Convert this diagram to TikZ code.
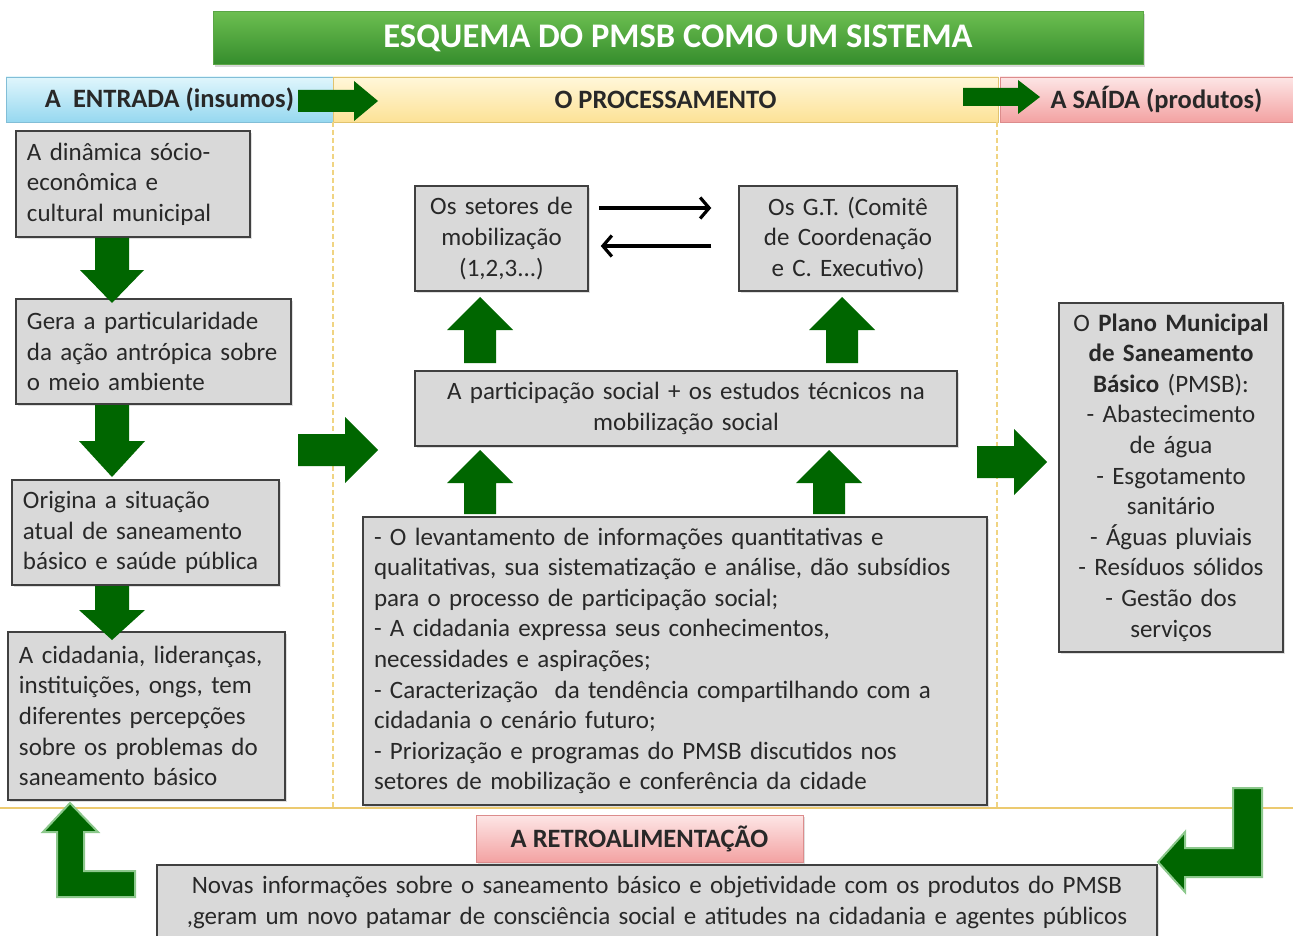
\documentclass[tikz,border=0pt]{standalone}
\usepackage{fontspec}
\setmainfont{Carlito}
\usetikzlibrary{arrows.meta,shadows}

\definecolor{boxfill}{RGB}{217,217,217}
\definecolor{boxline}{RGB}{64,64,64}
\definecolor{txt}{RGB}{40,40,40}
\definecolor{fatgreen}{RGB}{0,102,0}
\definecolor{fatedge}{RGB}{140,200,140}
\definecolor{ttop}{RGB}{108,190,80}
\definecolor{tbot}{RGB}{52,140,44}
\definecolor{tedge}{RGB}{90,165,70}
\definecolor{etop}{RGB}{224,246,252}
\definecolor{ebot}{RGB}{150,216,240}
\definecolor{eedge}{RGB}{130,190,215}
\definecolor{ptop}{RGB}{255,247,218}
\definecolor{pbot}{RGB}{253,226,150}
\definecolor{pedge}{RGB}{225,195,110}
\definecolor{stopc}{RGB}{253,230,230}
\definecolor{sbot}{RGB}{243,162,162}
\definecolor{sedge}{RGB}{220,140,140}
\definecolor{sepline}{RGB}{236,202,112}
\definecolor{dashc}{RGB}{240,212,130}

\newcommand\myfnt{\fontsize{25}{30.6}\selectfont\spaceskip=0.2em\relax}
\newcommand\hdrfnt{\fontsize{26.5}{30}\selectfont\bfseries}

\tikzset{
  box/.style={draw=boxline, fill=boxfill, line width=1.5pt, inner sep=0pt,
    font=\myfnt, text=txt,
    drop shadow={shadow xshift=2pt, shadow yshift=-2pt, opacity=0.25}},
  lbox/.style={box, align=left},
  cbox/.style={box, align=center},
  hdr/.style={minimum height=45pt, inner sep=0pt, line width=0.8pt,
    font=\hdrfnt, text=txt},
  pics/fat/.style n args={4}{code={
    \fill[fatgreen] (0,{-#3/2}) -- ({#1-#2},{-#3/2}) -- ({#1-#2},{-#4/2})
      -- (#1,0) -- ({#1-#2},{#4/2}) -- ({#1-#2},{#3/2}) -- (0,{#3/2}) -- cycle;
  }},
  larrow/.style={fill=fatgreen, draw=fatedge, line width=2pt, line join=miter},
  thinarr/.style={line width=3.2pt, -{Straight Barb[length=9pt,width=21pt,line width=3.2pt]}},
}

\begin{document}
\begin{tikzpicture}[x=1pt,y=-1pt]
\useasboundingbox (0,0) rectangle (1293,936);
\fill[white] (0,0) rectangle (1293,936);

% title
\node[minimum width=930pt, minimum height=53pt, inner sep=0pt,
  top color=ttop, bottom color=tbot, draw=tedge, line width=1pt,
  text=white, font=\fontsize{34.5}{34}\selectfont\bfseries,
  drop shadow={shadow xshift=2pt, shadow yshift=-2pt, opacity=0.3}]
  (title) at (678,38.5) {ESQUEMA DO PMSB COMO UM SISTEMA};

% header bar
\node[hdr, minimum width=327pt, top color=etop, bottom color=ebot, draw=eedge]
  (entrada) at (169.5,99.5) {A\ \ ENTRADA (insumos)};
\node[hdr, minimum width=665pt, top color=ptop, bottom color=pbot, draw=pedge]
  (proc) at (665.5,99.5) {O PROCESSAMENTO};
\node[hdr, minimum width=293pt, top color=stopc, bottom color=sbot, draw=sedge]
  (saida) at (1146.5,99.5) {\hspace*{20pt}A SAÍDA (produtos)};

% separators
\draw[dashc, line width=1.5pt, dash pattern=on 5pt off 3pt] (333,122) -- (333,808);
\draw[dashc, line width=1.5pt, dash pattern=on 5pt off 3pt] (997,122) -- (997,808);
\draw[sepline, line width=2pt] (0,808) -- (1293,808);

% left column
\node[lbox, minimum width=234pt, minimum height=106pt, text width=212pt]
  (l1) at (133,184) {A dinâmica sócio-\\econômica e\\cultural municipal};
\node[lbox, minimum width=275pt, minimum height=105pt, text width=253pt]
  (l2) at (153.5,351.5) {Gera a particularidade\\da ação antrópica sobre\\o meio ambiente};
\node[lbox, minimum width=267pt, minimum height=105pt, text width=245pt]
  (l3) at (145.5,532.5) {Origina a situação\\atual de saneamento\\básico e saúde pública};
\node[lbox, minimum width=277pt, minimum height=168pt, text width=255pt]
  (l4) at (146.5,716) {A cidadania, lideranças,\\instituições, ongs, tem\\diferentes percepções\\sobre os problemas do\\saneamento básico};

% processing column
\node[cbox, minimum width=173pt, minimum height=105pt, text width=165pt]
  (setores) at (501.5,238.5) {Os setores de\\mobilização\\(1,2,3...)};
\node[cbox, minimum width=218pt, minimum height=105pt, text width=210pt]
  (gt) at (848,238.5) {Os G.T. (Comitê\\de Coordenação\\e C. Executivo)};
\node[cbox, minimum width=542pt, minimum height=75pt, text width=530pt]
  (part) at (686,408.5) {A participação social + os estudos técnicos na\\mobilização social};
\node[lbox, minimum width=624pt, minimum height=288pt, text width=602pt]
  (big) at (675,661) {- O levantamento de informações quantitativas e\\qualitativas, sua sistematização e análise, dão subsídios\\para o processo de participação social;\\- A cidadania expressa seus conhecimentos,\\necessidades e aspirações;\\- Caracterização\ \ da tendência compartilhando com a\\cidadania o cenário futuro;\\- Priorização e programas do PMSB discutidos nos\\setores de mobilização e conferência da cidade};

% output column
\node[cbox, minimum width=224pt, minimum height=349pt, text width=216pt]
  (plano) at (1171,477.5) {O \textbf{Plano Municipal}\\\textbf{de Saneamento}\\\textbf{Básico} (PMSB):\\- Abastecimento\\de água\\- Esgotamento\\sanitário\\- Águas pluviais\\- Resíduos sólidos\\- Gestão dos\\serviços};

% feedback
\node[minimum width=327pt, minimum height=47pt, inner sep=0pt,
  top color=stopc, bottom color=sbot, draw=sedge, line width=1pt,
  font=\hdrfnt, text=txt,
  drop shadow={shadow xshift=2pt, shadow yshift=-2pt, opacity=0.25}]
  (retro) at (639.5,838.5) {A RETROALIMENTAÇÃO};
\node[cbox, minimum width=1000pt, minimum height=75pt, text width=990pt]
  (novas) at (657,902.5) {Novas informações sobre o saneamento básico e objetividade com os produtos do PMSB\\,geram um novo patamar de consciência social e atitudes na cidadania e agentes públicos};

% thin arrows between setores and G.T.
\draw[thinarr] ([xshift=10pt,yshift=30.5pt]setores.east) -- ([xshift=-27pt,yshift=30.5pt]gt.west);
\draw[thinarr] ([xshift=-27pt,yshift=-7.5pt]gt.west) -- ([xshift=12pt,yshift=-7.5pt]setores.east);

% fat arrows
\pic at (298,101) {fat={80}{24}{22}{40}};
\pic at (963,97) {fat={77}{22}{18}{34}};
\pic[rotate=-90] at (112,238) {fat={65}{33}{34}{64}};
\pic[rotate=-90] at (112,405) {fat={72}{36}{34}{66}};
\pic[rotate=-90] at (112,586) {fat={54}{30}{34}{66}};
\pic at (298,450) {fat={80}{33}{32}{66}};
\pic at (977,462) {fat={70}{33}{32}{66}};
\pic[rotate=90] at (480,363) {fat={66}{33}{32}{66}};
\pic[rotate=90] at (842,363) {fat={66}{33}{32}{66}};
\pic[rotate=90] at (480,514) {fat={64}{33}{32}{66}};
\pic[rotate=90] at (829,514) {fat={64}{33}{32}{66}};

% L-shaped feedback arrows
\draw[larrow] (70,803) -- (98,832) -- (84,832) -- (84,871) -- (135,871)
  -- (135,897) -- (57,897) -- (57,832) -- (43,832) -- cycle;
\draw[larrow] (1233,788) -- (1262,788) -- (1262,877) -- (1185,877) -- (1185,892)
  -- (1158,862) -- (1185,832) -- (1185,848) -- (1233,848) -- cycle;
\end{tikzpicture}
\end{document}
